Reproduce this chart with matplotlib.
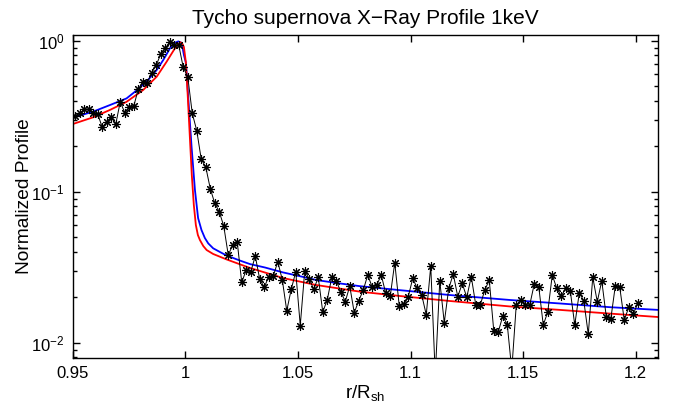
import numpy as np
import matplotlib
matplotlib.use("Agg")
import matplotlib.pyplot as plt
from matplotlib.ticker import LogLocator, FixedLocator

plt.rcParams['font.family'] = ['Liberation Sans', 'DejaVu Sans']
plt.rcParams['mathtext.fontset'] = 'custom'
plt.rcParams['mathtext.rm'] = 'Liberation Sans'
plt.rcParams['mathtext.it'] = 'Liberation Sans:italic'
plt.rcParams['mathtext.default'] = 'regular'

# measured profile, r/R_sh = 0.951 + 0.002*i
r_start = 0.951
r_step = 0.002
profile = [
    0.317, 0.331, 0.351, 0.351, 0.331, 0.327, 0.267, 0.291, 0.311, 0.280,
    0.394, 0.334, 0.362, 0.369, 0.477, 0.535, 0.527, 0.614, 0.690, 0.816,
    0.891, 0.985, 0.936, 0.936, 0.666, 0.578, 0.331, 0.254, 0.164, 0.146,
    0.105, 0.0838, 0.0737, 0.0593, 0.0381, 0.0444, 0.0462, 0.0251, 0.0304, 0.0294,
    0.0375, 0.0263, 0.0233, 0.0274, 0.0276, 0.0344, 0.0262, 0.0163, 0.0226, 0.0295,
    0.0130, 0.0300, 0.0264, 0.0226, 0.0271, 0.0160, 0.0192, 0.0271, 0.0257, 0.0218,
    0.0187, 0.0237, 0.0158, 0.0190, 0.0223, 0.0281, 0.0233, 0.0241, 0.0281, 0.0212,
    0.0204, 0.0339, 0.0175, 0.0180, 0.0202, 0.0267, 0.0229, 0.0207, 0.0153, 0.0322,
    0.0061, 0.0257, 0.0136, 0.0229, 0.0285, 0.0202, 0.0247, 0.0200, 0.0274, 0.0178,
    0.0178, 0.0223, 0.0260, 0.0120, 0.0118, 0.0150, 0.0132, 0.0066, 0.0178, 0.0192,
    0.0178, 0.0178, 0.0245, 0.0235, 0.0131, 0.0160, 0.0281, 0.0229, 0.0204, 0.0229,
    0.0221, 0.0131, 0.0214, 0.0190, 0.0114, 0.0271, 0.0187, 0.0257, 0.0149, 0.0143,
    0.0237, 0.0233, 0.0141, 0.0172, 0.0155, 0.0182,
]

# model curves
blue_r = [0.9500, 0.9531, 0.9589, 0.9664, 0.9738, 0.9789, 0.9833, 0.9872, 0.9901, 0.9931,
          0.9953, 0.9968, 0.9983, 0.9993, 1.0002, 1.0012, 1.0027, 1.0042, 1.0056, 1.0071,
          1.0086, 1.0101, 1.0123, 1.0153, 1.0183, 1.0242, 1.0286, 1.0353, 1.0434, 1.0508,
          1.0582, 1.0686, 1.0774, 1.0952, 1.1174, 1.1440, 1.1663, 1.1885, 1.2100]
blue_v = [0.311, 0.320, 0.339, 0.375, 0.415, 0.477, 0.549, 0.640, 0.745, 0.891,
          0.970, 0.990, 0.966, 0.804, 0.712, 0.424, 0.198, 0.1026, 0.0669, 0.0558,
          0.0494, 0.0455, 0.0422, 0.0399, 0.0378, 0.0350, 0.0332, 0.0315, 0.0292, 0.0276,
          0.0260, 0.0247, 0.0237, 0.0223, 0.0207, 0.0192, 0.0182, 0.0172, 0.0165]

red_r = [0.9500, 0.9589, 0.9664, 0.9738, 0.9812, 0.9872, 0.9916, 0.9953, 0.9971, 0.9977,
         0.9984, 0.9993, 1.0002, 1.0011, 1.0020, 1.0028, 1.0037, 1.0046, 1.0055, 1.0064,
         1.0079, 1.0094, 1.0123, 1.0183, 1.0286, 1.0434, 1.0582, 1.0774, 1.0952, 1.1174,
         1.1440, 1.1663, 1.1885, 1.2100]
red_v = [0.281, 0.311, 0.348, 0.394, 0.472, 0.578, 0.726, 0.891, 0.958, 0.975,
         0.970, 0.908, 0.712, 0.405, 0.220, 0.129, 0.0817, 0.0602, 0.0517, 0.0479,
         0.0437, 0.0411, 0.0387, 0.0356, 0.0313, 0.0268, 0.0241, 0.0218, 0.0204, 0.0189,
         0.0174, 0.0165, 0.0156, 0.0148]

x_ticks = [0.95, 1.0, 1.05, 1.1, 1.15, 1.2]
x_labels = ['0.95', '1', '1.05', '1.1', '1.15', '1.2']

r_data = r_start + r_step * np.arange(len(profile))

fig = plt.figure(figsize=(6.79, 4.05), dpi=100)
ax = fig.add_axes([0.1075, 0.116, 0.8616, 0.7975])

ax.plot(blue_r, blue_v, color='#0000ff', lw=1.3)
ax.plot(red_r, red_v, color='#ff0000', lw=1.3)
ax.plot(r_data, profile, color='black', lw=0.7, marker=(8, 2, 0),
        markersize=6.5, markeredgewidth=0.8)

ax.set_yscale('log')
ax.set_xlim(0.95, 1.21)
ax.set_ylim(0.00792, 1.091)
ax.xaxis.set_major_locator(FixedLocator(x_ticks))
ax.set_xticklabels(x_labels)
ax.yaxis.set_major_locator(LogLocator(base=10))
ax.yaxis.set_minor_locator(LogLocator(base=10, subs=np.arange(2, 10)))
ax.xaxis.set_minor_locator(FixedLocator([]))

ax.tick_params(which='both', direction='in', top=True, right=True,
               labelsize=12, width=1.0, pad=6)
ax.tick_params(which='major', length=5)
ax.tick_params(which='minor', length=3)
for s in ax.spines.values():
    s.set_linewidth(1.0)

ax.set_title('Tycho supernova X\u2212Ray Profile 1keV', fontsize=15, pad=8)
ax.set_xlabel('r/R$_{sh}$', fontsize=13.5, labelpad=1)
ax.set_ylabel('Normalized Profile', fontsize=13.8, labelpad=-1)

fig.savefig('out.png', dpi=100)
